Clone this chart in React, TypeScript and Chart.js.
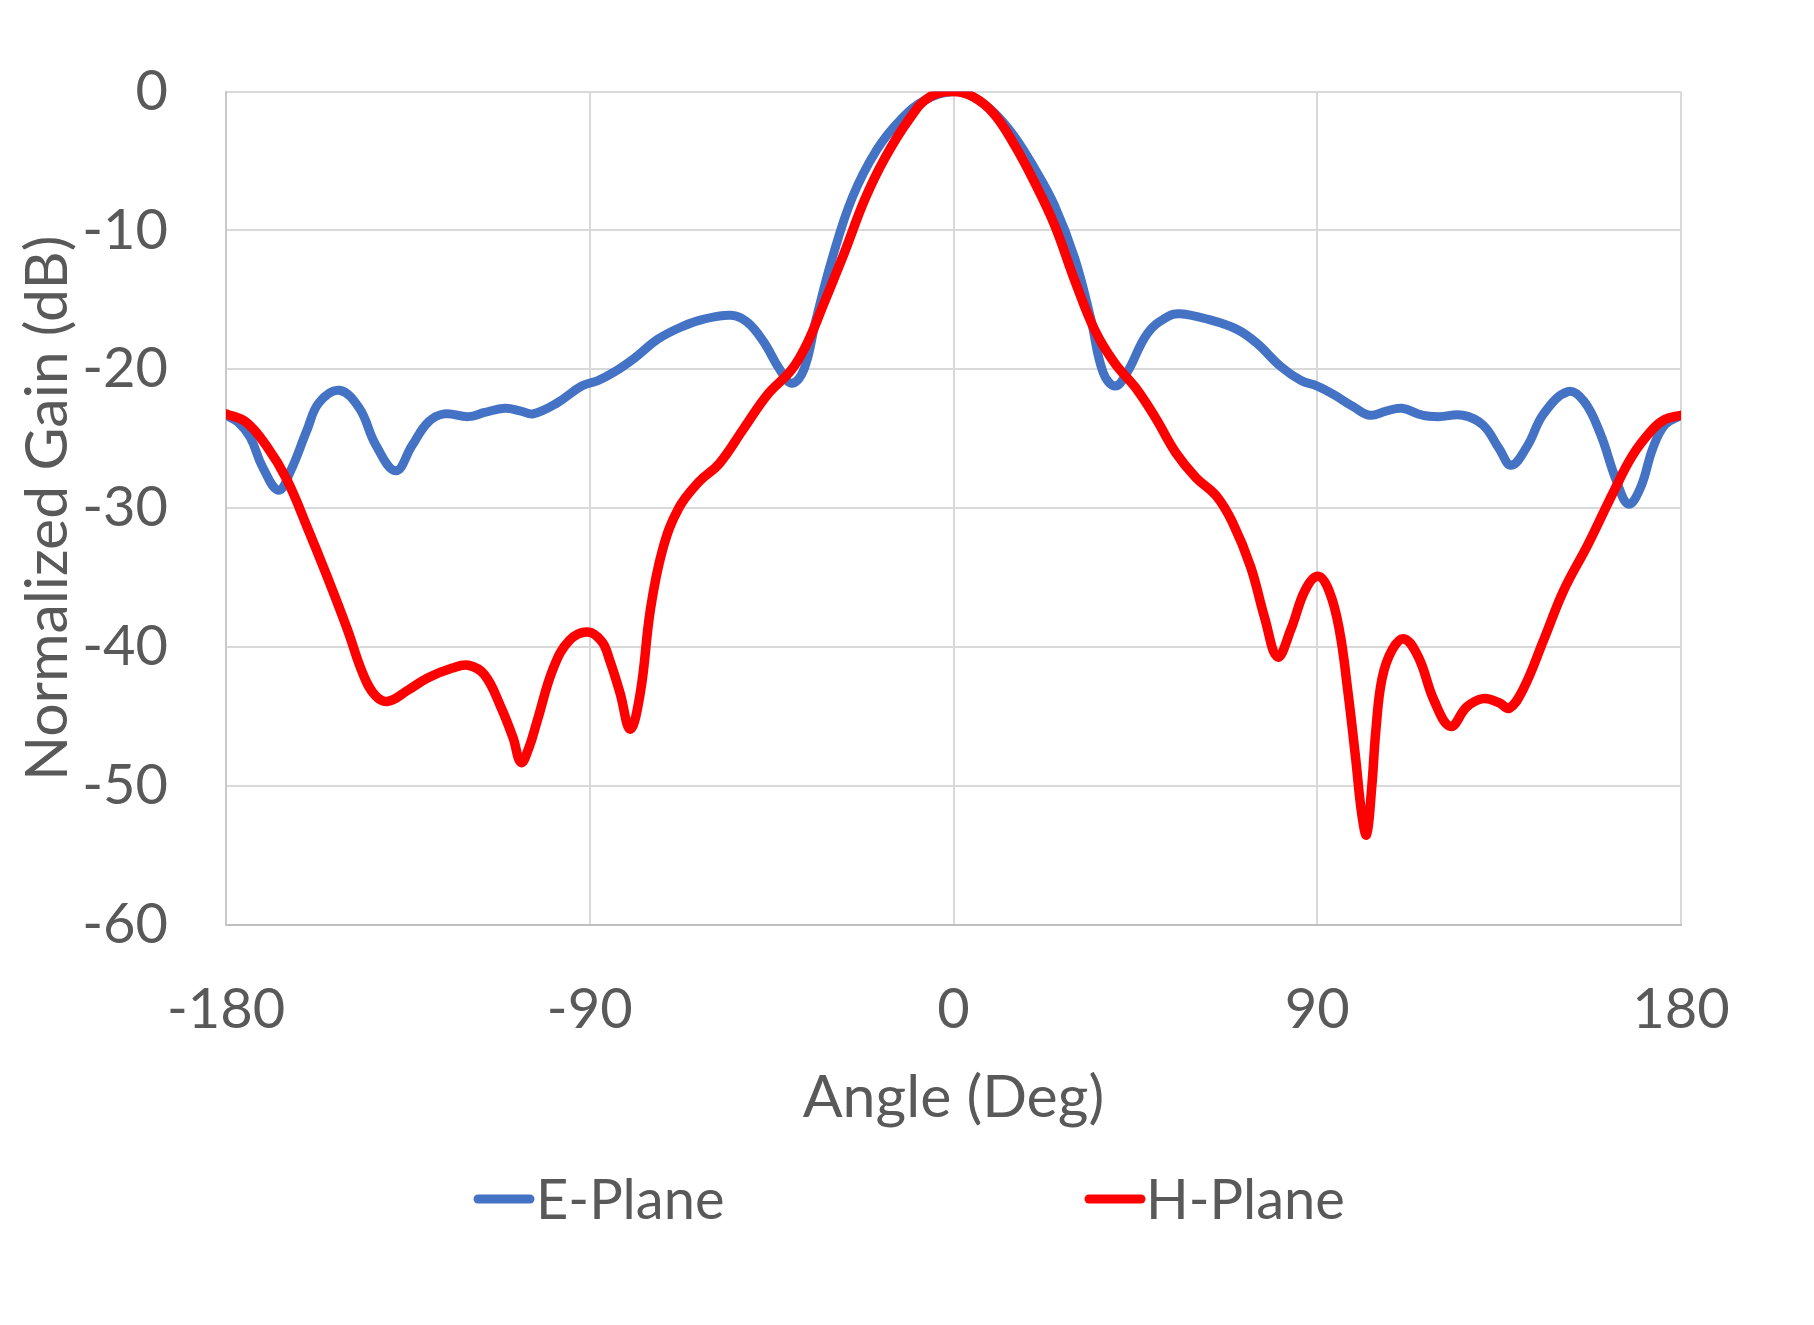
import { useEffect, useRef } from "react";
import { Chart, registerables } from "chart.js";

Chart.register(...registerables);

// ---- data ----
const ePlaneAngles = [
  -180, -177, -174, -171, -167, -164, -160, -157, -152, -147, -143, -138, -134, -130, -126, -120,
  -116, -111, -107, -104, -98, -92, -88, -84, -79, -73, -67, -62, -55, -51, -47, -43, -40, -37,
  -34, -30, -25, -19, -13, -7, 0, 5, 10, 15, 20, 25, 30, 34, 37, 40, 43, 48, 53, 56, 63, 70,
  75, 81, 86, 90, 94, 99, 103, 107, 111, 116, 120, 126, 131, 135, 138, 142, 146, 152, 156, 160,
  164, 167, 170, 173, 176, 180,
];
const ePlaneGain = [
  -23.3, -23.8, -24.9, -27.0, -28.7, -27.3, -24.4, -22.4, -21.5, -22.8, -25.4, -27.3, -25.5, -23.8,
  -23.2, -23.4, -23.1, -22.8, -23.0, -23.2, -22.4, -21.2, -20.8, -20.2, -19.2, -17.8, -16.9, -16.4,
  -16.1, -16.6, -18.0, -20.0, -21.0, -20.0, -16.4, -12.0, -7.6, -4.2, -2.0, -0.6, 0, -0.4, -1.5,
  -3.2, -5.5, -8.2, -12.0, -16.4, -20.2, -21.2, -20.2, -17.4, -16.2, -16.0, -16.4, -17.1,
  -18.1, -19.8, -20.8, -21.2, -21.8, -22.7, -23.3, -23.0, -22.8, -23.3, -23.4, -23.3, -24.0, -25.7,
  -26.9, -25.5, -23.2, -21.6, -22.3, -24.6, -28.0, -29.7, -28.5, -25.7, -24.0, -23.3,
];

const hPlaneAngles = [
  -180, -175, -170, -165, -160, -155, -150, -146, -143, -140, -135, -130, -124, -120, -116, -112,
  -109, -107, -105, -103, -99, -95, -90.5, -87, -85, -82.5, -80, -77.5, -75, -72, -68, -63, -58,
  -52, -46, -40, -36, -32, -27, -22, -17, -11, -6, 0, 5, 10, 15, 20, 25, 30, 35, 40, 45, 50,
  55, 60, 65, 69, 73.5, 77, 80.2, 83.5, 87, 90.2, 93, 95.5, 97.5, 99.5, 101, 102.2, 103.5, 104.5,
  106, 108.5, 111.5, 115, 119, 123, 127, 131, 135, 137.5, 141, 146, 151, 157, 163, 168, 173, 176,
  180,
];
const hPlaneGain = [
  -23.2, -23.8, -25.5, -27.9, -31.3, -34.9, -38.7, -42.0, -43.5, -43.9, -43.1, -42.2, -41.5, -41.3,
  -42.0, -44.3, -46.5, -48.3, -47.2, -45.3, -41.5, -39.5, -38.9, -39.6, -41.0, -43.3, -45.9, -43.3,
  -37.3, -33.0, -30.0, -28.1, -26.8, -24.3, -21.8, -20.0, -18.0, -15.2, -11.6, -7.8, -4.8, -2.0,
  -0.4, 0, -0.4, -1.6, -3.8, -6.5, -9.6, -13.6, -17.2, -19.6, -21.3, -23.5, -26.0, -27.8,
  -29.1, -31.0, -34.2, -37.9, -40.7, -38.7, -35.9, -34.9, -36.0, -38.8, -43.0, -48.0, -52.0, -53.5,
  -50.0, -46.0, -42.3, -40.2, -39.4, -40.7, -43.9, -45.7, -44.3, -43.7, -44.0, -44.4, -43.0, -39.5,
  -35.9, -32.6, -29.0, -26.2, -24.3, -23.6, -23.3,
];

const xTickValues = [-180, -90, 0, 90, 180];
const yTickValues = [-60, -50, -40, -30, -20, -10, 0];
const seriesNames = ["E-Plane", "H-Plane"];
const seriesColors = ["#4472C4", "#FF0000"];
const xTitle = "Angle (Deg)";
const yTitle = "Normalized Gain (dB)";

// ---- style ----
const FONT_FAMILY = "Lato";
const TEXT_COLOR = "#595959";
const FONT_SIZE = 56;
const TITLE_SIZE = 59;
const W = 1814;
const H = 1325;

const toPoints = (xs: number[], ys: number[]) => xs.map((x, i) => ({ x, y: ys[i] }));

const legendPlugin = {
  id: "excelLegend",
  afterDraw(chart: any) {
    const ctx = chart.ctx as CanvasRenderingContext2D;
    const items = [
      { x0: 478, x1: 530, tx: 536 },
      { x0: 1089, x1: 1141, tx: 1146 },
    ];
    const y = 1199;
    ctx.save();
    ctx.font = `${FONT_SIZE}px ${FONT_FAMILY}`;
    ctx.textBaseline = "middle";
    ctx.textAlign = "left";
    items.forEach((it, i) => {
      ctx.strokeStyle = seriesColors[i];
      ctx.lineWidth = 9;
      ctx.lineCap = "round";
      ctx.beginPath();
      ctx.moveTo(it.x0, y);
      ctx.lineTo(it.x1, y);
      ctx.stroke();
      ctx.fillStyle = TEXT_COLOR;
      ctx.fillText(seriesNames[i], it.tx, y + 2);
    });
    ctx.restore();
  },
};

export default function App() {
  const ref = useRef<HTMLCanvasElement | null>(null);

  useEffect(() => {
    document.body.style.margin = "0";
    const canvas = ref.current;
    if (!canvas) return;
    const font = { family: FONT_FAMILY, size: FONT_SIZE, lineHeight: 1.2 };
    const titleFont = { family: FONT_FAMILY, size: TITLE_SIZE, lineHeight: 1.2 };
    const chart = new Chart(canvas, {
      type: "line",
      data: {
        datasets: [
          {
            label: seriesNames[0],
            data: toPoints(ePlaneAngles, ePlaneGain),
            borderColor: seriesColors[0],
            backgroundColor: seriesColors[0],
            borderWidth: 9,
            pointRadius: 0,
            tension: 0.4,
            borderCapStyle: "round",
            borderJoinStyle: "round",
            order: 1,
          },
          {
            label: seriesNames[1],
            data: toPoints(hPlaneAngles, hPlaneGain),
            borderColor: seriesColors[1],
            backgroundColor: seriesColors[1],
            borderWidth: 9.5,
            pointRadius: 0,
            tension: 0.4,
            borderCapStyle: "round",
            borderJoinStyle: "round",
            order: 0,
          },
        ],
      },
      options: {
        animation: false,
        responsive: false,
        devicePixelRatio: 1,
        layout: { padding: { left: 0, top: 90, right: 133, bottom: 192 } },
        plugins: {
          legend: { display: false },
          tooltip: { enabled: false },
        },
        scales: {
          x: {
            type: "linear",
            min: -180,
            max: 180,
            afterBuildTicks: (s: any) => {
              s.ticks = xTickValues.map((v) => ({ value: v }));
            },
            afterFit: (s: any) => {
              s.height = 208;
            },
            grid: { color: "#D9D9D9", lineWidth: 2, drawTicks: false },
            border: { color: "#BFBFBF", width: 2 },
            ticks: { color: TEXT_COLOR, font, padding: 51, maxRotation: 0, autoSkip: false },
            title: {
              display: true,
              text: xTitle,
              color: TEXT_COLOR,
              font: titleFont,
              padding: { top: 0, bottom: 0 },
            },
          },
          y: {
            type: "linear",
            min: -60,
            max: 0,
            afterBuildTicks: (s: any) => {
              s.ticks = yTickValues.map((v) => ({ value: v }));
            },
            afterFit: (s: any) => {
              s.width = 226;
            },
            grid: { color: "#D9D9D9", lineWidth: 2, drawTicks: false },
            border: { color: "#C8C8C8", width: 2 },
            ticks: { color: TEXT_COLOR, font, padding: 58, autoSkip: false },
            title: {
              display: true,
              text: yTitle,
              color: TEXT_COLOR,
              font: titleFont,
              padding: { top: 13, bottom: 0 },
            },
          },
        },
      } as any,
      plugins: [legendPlugin],
    });
    return () => chart.destroy();
  }, []);

  return (
    <canvas
      ref={ref}
      width={W}
      height={H}
      style={{ display: "block", width: W + "px", height: H + "px" }}
    />
  );
}
